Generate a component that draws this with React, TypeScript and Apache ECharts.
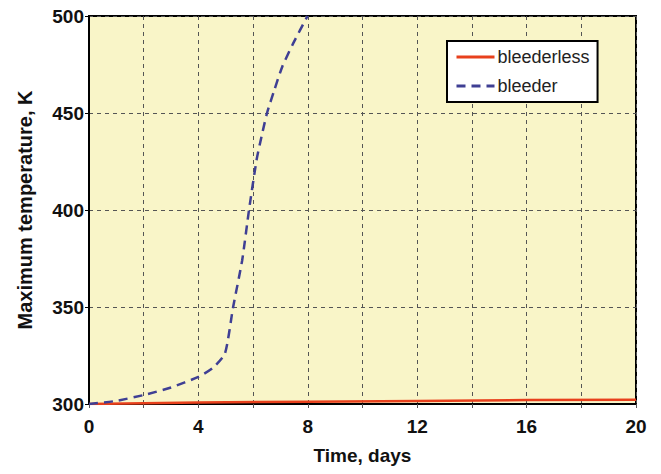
import React, { useEffect, useRef } from "react";
import * as echarts from "echarts";

const bleederDays = [0, 0.95, 2, 3, 4, 4.53, 4.97, 5.27, 5.6, 5.85, 6.13, 6.31, 6.51, 6.78, 7.07, 7.47, 7.99];
const bleederTemp = [300, 301.5, 304.6, 308.5, 314, 318.6, 326, 350, 374, 400, 426, 438, 450, 462, 474, 486, 500];
const bleederlessDays = [0, 4, 8, 12, 16, 20];
const bleederlessTemp = [300, 300.8, 301.2, 301.6, 302, 302.2];
const xTicks = [0, 4, 8, 12, 16, 20];
const yTicks = [300, 350, 400, 450, 500];

export default function App() {
  const ref = useRef<HTMLDivElement>(null);
  useEffect(() => {
    const chart = echarts.init(ref.current!, null, { renderer: "svg" });
    const font = "Liberation Sans, Arial, sans-serif";
    chart.setOption({
      animation: false,
      grid: {
        left: 89,
        top: 16,
        right: 25,
        bottom: 70,
        show: true,
        backgroundColor: "#F9F5C8",
        borderColor: "#000",
        borderWidth: 2,
      },
      legend: {
        orient: "vertical",
        left: 447,
        top: 41,
        padding: [7, 8, 7, 8],
        itemGap: 11,
        itemWidth: 38,
        itemHeight: 14,
        backgroundColor: "#fff",
        borderColor: "#000",
        borderWidth: 2,
        borderRadius: 0,
        itemStyle: { color: "transparent", borderWidth: 0, opacity: 0 },
        lineStyle: { width: 3 },
        textStyle: { fontFamily: font, fontSize: 18, color: "#222", padding: [0, 0, 0, -2] },
        data: ["bleederless", "bleeder"],
      },
      xAxis: {
        type: "value",
        min: 0,
        max: 20,
        interval: 2,
        name: "Time, days",
        nameLocation: "middle",
        nameGap: 42,
        nameTextStyle: { fontFamily: font, fontSize: 19, fontWeight: "bold", color: "#111" },
        axisLine: { show: true, lineStyle: { color: "#000", width: 2 } },
        axisTick: { show: true, length: 4, lineStyle: { color: "#555" } },
        axisLabel: {
          fontFamily: font,
          fontSize: 19,
          fontWeight: "bold",
          color: "#111",
          margin: 13,
          formatter: (v: number) => (xTicks.includes(v) ? String(v) : ""),
        },
        splitLine: { show: true, lineStyle: { color: "#555", type: [4, 4], width: 1 } },
      },
      yAxis: {
        type: "value",
        min: 300,
        max: 500,
        interval: 50,
        name: "Maximum temperature, K",
        nameLocation: "middle",
        nameGap: 54,
        nameTextStyle: { fontFamily: font, fontSize: 20, fontWeight: "bold", color: "#111" },
        axisLine: { show: true, lineStyle: { color: "#000", width: 2 } },
        axisTick: { show: true, length: 4, lineStyle: { color: "#000" } },
        axisLabel: {
          fontFamily: font,
          fontSize: 19,
          fontWeight: "bold",
          color: "#111",
          margin: 5,
          formatter: (v: number) => (yTicks.includes(v) ? String(v) : ""),
        },
        splitLine: { show: true, lineStyle: { color: "#555", type: [4, 4], width: 1 } },
      },
      series: [
        {
          name: "bleederless",
          type: "line",
          symbol: "none",
          smooth: false,
          data: bleederlessDays.map((d, i) => [d, bleederlessTemp[i]]),
          lineStyle: { color: "#E8401C", width: 2.5 },
          itemStyle: { color: "#E8401C" },
          z: 3,
        },
        {
          name: "bleeder",
          type: "line",
          symbol: "none",
          smooth: 0.2,
          data: bleederDays.map((d, i) => [d, bleederTemp[i]]),
          lineStyle: { color: "#3F3F94", width: 2.5, type: [9, 6] },
          itemStyle: { color: "#3F3F94" },
          z: 4,
        },
      ],
    });
    return () => chart.dispose();
  }, []);
  return <div ref={ref} style={{ width: 661, height: 474, margin: -8 }} />;
}
